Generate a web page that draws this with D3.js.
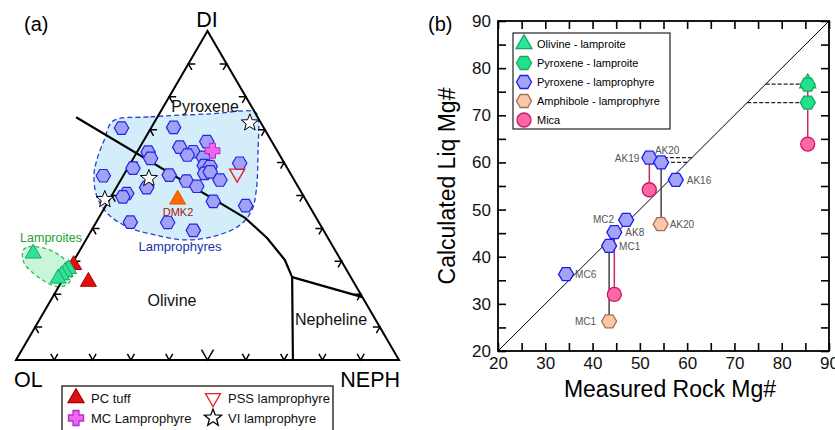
<!DOCTYPE html>
<html>
<head>
<meta charset="utf-8">
<script src="https://cdn.jsdelivr.net/npm/d3@7/dist/d3.min.js"></script>
<style>
body { margin: 0; background: #fff; }
svg text { font-family: "Liberation Sans", Arial, sans-serif; }
</style>
</head>
<body>
<script>

// ---------------- data: panel (a), ternary OL-NEPH-DI ----------------
// each point is [NEPH, DI] in percent, OL is whatever is left
var pyxLamprophyreTern = [
  [-7.7,70.5],[5.8,70.7],[16.6,66.4],[10.4,64.7],[2.9,63.2],[4.5,61.3],[14.6,63.3],
  [13.6,62.3],[18.1,61.6],[28.5,59.8],[1.4,58.3],[19.6,59.1],[21.3,58.8],[20.9,56.7],
  [22.1,57.2],[-5.2,56.0],[11.9,56.2],[25.9,54.7],[17.3,54.4],[7.9,52.4],[20.8,52.8],
  [3.6,50.6],[3.1,49.6],[27.4,48.2],[36.5,46.9],[8.9,41.9],[18.7,41.8],[26.6,39.4]
];
var pcTuffTern = [[0.6,28.9],[7.0,23.8]];
var lamproiteTern = [[-11.7,32.4],[-0.1,27.7],[-0.6,26.8],[-1.0,25.8],[-1.4,24.8]];
var mcLamprophyreTern = [[19.5,63.6]];
var pssLamprophyreTern = [[29.4,56.7]];
var viLamprophyreTern = [[25.0,72.1],[7.1,55.2],[-1.2,48.8]];
var dmk2Tern = [[17.8,48.8]];

var lamprophyreField = [
  [-11.0,72.6],[-1.9,73.9],[13.3,74.8],[24.7,75.4],[26.4,73.6],[31.3,63.8],[36.9,51.7],
  [38.8,45.6],[38.0,41.0],[33.2,37.7],[25.9,36.5],[17.3,38.0],[9.0,40.4],[1.8,44.4],
  [-3.8,49.8],[-7.6,55.9],[-9.3,60.8],[-10.4,66.9]
];
var lamproiteField = [
  [-14.8,33.4],[-14.0,34.4],[-10.0,34.1],[-5.6,32.4],[-2.4,30.4],[1.1,26.8],
  [2.2,23.8],[0.8,22.3],[-2.1,22.8],[-9.3,26.8],[-13.0,29.9]
];
// phase boundaries
var boundaryMain = [[-21.2,73.8],[38.2,43.2],[47.0,37.1],[55.0,30.4],[59.5,25.2],[72.3,0]];
var boundaryNeph = [[59.5,25.2],[80.9,19.1]];
var ternTicks = [10,20,30,40,50,60,70,80,90];

// ---------------- data: panel (b), Mg# ----------------
var olivineLamproite = [{m:85.5, c:76.8}];
var pyroxeneLamproite = [{m:85.5, c:76.5}, {m:85.5, c:72.7}];
var pyroxeneLamprophyre = [
  {name:"AK19", m:52.0, c:61.0},
  {name:"AK20", m:54.5, c:60.0},
  {name:"AK16", m:57.6, c:56.3},
  {name:"MC2",  m:47.1, c:47.8},
  {name:"AK8",  m:44.6, c:45.2},
  {name:"MC1",  m:43.5, c:42.3},
  {name:"MC6",  m:34.4, c:36.3}
];
var amphiboleLamprophyre = [{name:"AK20", m:54.4, c:46.9}, {name:"MC1", m:43.5, c:26.3}];
var mica = [{m:52.0, c:54.2}, {m:44.6, c:32.0}, {m:85.5, c:63.9}];
// tie lines between phases of the same rock [m, c top, c bottom]
var micaTies = [[52.0,61.0,54.2],[44.6,45.2,32.0],[85.5,76.5,63.9]];
var amphTies = [[54.5,60.0,46.9],[43.5,42.3,26.3]];
// horizontal projections to the 1:1 line [c, m]
var equilProj = [[76.6,85.5],[72.7,85.5],[61.0,52.0],[60.0,54.5]];
var axisTicks = [20,25,30,35,40,45,50,55,60,65,70,75,80,85,90];
var axisLabels = [20,30,40,50,60,70,80,90];

// ---------------- symbols ----------------
function hexPath(r) {
  var p = d3.range(6).map(function(i) {
    var a = Math.PI / 3 * i;
    return [r * Math.cos(a), r * Math.sin(a)];
  });
  return "M" + p.join("L") + "Z";
}
function triPath(s, down) {
  var h = s / Math.sqrt(3), k = down ? -1 : 1;
  return "M0," + (-h * k) + "L" + (s/2) + "," + (h/2*k) + "L" + (-s/2) + "," + (h/2*k) + "Z";
}
function starPath(R, r) {
  var p = d3.range(10).map(function(i) {
    var a = -Math.PI / 2 + Math.PI / 5 * i, rr = i % 2 ? r : R;
    return [rr * Math.cos(a), rr * Math.sin(a)];
  });
  return "M" + p.join("L") + "Z";
}
function crossPath(a, t) {
  return "M" + (-t) + "," + (-a) + "H" + t + "V" + (-t) + "H" + a + "V" + t + "H" + t +
    "V" + a + "H" + (-t) + "V" + t + "H" + (-a) + "V" + (-t) + "H" + (-t) + "Z";
}

var svg = d3.select("body").append("svg")
  .attr("width", 835)
  .attr("height", 430);

// ======================= panel (a) =======================
var tx = d3.scaleLinear().domain([0,100]).range([16,399]);
var ty = d3.scaleLinear().domain([0,100]).range([360,31]);
function proj(d) { return [tx(d[0] + d[1] / 2), ty(d[1])]; }

var ga = svg.append("g");

// fields
ga.append("path")
  .attr("d", d3.line().curve(d3.curveCatmullRomClosed.alpha(0.5))(lamprophyreField.map(proj)))
  .attr("fill", "#d4edfb")
  .attr("stroke", "#2b3fc4")
  .attr("stroke-width", 1.3)
  .attr("stroke-dasharray", "5,3");

ga.append("path")
  .attr("d", d3.line().curve(d3.curveCatmullRomClosed.alpha(0.5))(lamproiteField.map(proj)))
  .attr("fill", "#c9f6d9")
  .attr("stroke", "#2cbf4a")
  .attr("stroke-width", 1.3)
  .attr("stroke-dasharray", "4,3");

// triangle frame
var corners = [[0,0],[100,0],[0,100]];
ga.append("path")
  .attr("d", "M" + corners.map(proj).join("L") + "Z")
  .attr("fill", "none")
  .attr("stroke", "#000")
  .attr("stroke-width", 2);

// chevron ticks, vertex on the edge, arms 30 deg either side of inward normal
var edges = [
  {from:[0,0], to:[100,0], n:[0,-1]},
  {from:[0,0], to:[0,100], n:[0.866,0.5]},
  {from:[100,0], to:[0,100], n:[-0.866,0.5]}
];
function rot(v, a) {
  return [v[0]*Math.cos(a) - v[1]*Math.sin(a), v[0]*Math.sin(a) + v[1]*Math.cos(a)];
}
edges.forEach(function(e, ei) {
  ternTicks.forEach(function(t) {
    var f = t / 100;
    var p = proj([e.from[0] + (e.to[0]-e.from[0])*f, e.from[1] + (e.to[1]-e.from[1])*f]);
    var L = (ei == 0 && t == 50) ? 12 : 7;
    var a1 = rot(e.n, Math.PI/6), a2 = rot(e.n, -Math.PI/6);
    ga.append("path")
      .attr("d", "M" + (p[0]+a1[0]*L) + "," + (p[1]+a1[1]*L) + "L" + p[0] + "," + p[1] +
        "L" + (p[0]+a2[0]*L) + "," + (p[1]+a2[1]*L))
      .attr("fill", "none")
      .attr("stroke", "#000")
      .attr("stroke-width", 1.5);
  });
});

// boundaries
[boundaryMain, boundaryNeph].forEach(function(b) {
  ga.append("path")
    .attr("d", d3.line()(b.map(proj)))
    .attr("fill", "none")
    .attr("stroke", "#000")
    .attr("stroke-width", 2.2)
    .attr("stroke-linejoin", "round");
});

// points
function drawTern(data, d, fill, stroke, sw) {
  ga.selectAll(null)
    .data(data)
    .enter().append("path")
    .attr("transform", function(p) { return "translate(" + proj(p) + ")"; })
    .attr("d", d)
    .attr("fill", fill)
    .attr("stroke", stroke)
    .attr("stroke-width", sw || 1.2);
}
drawTern(pyxLamprophyreTern, hexPath(7.2), "#a2a2f4", "#2424e6", 1.2);
drawTern(pcTuffTern, triPath(16), "#dd1111", "#b00000", 1);
drawTern(lamproiteTern, triPath(16), "#33e099", "#16a85e", 1);
drawTern(mcLamprophyreTern, crossPath(7.5, 3), "#ee66ee", "#b52ad0", 1);
drawTern(pssLamprophyreTern, triPath(15, true), "none", "#ee2222", 1.4);
drawTern(viLamprophyreTern, starPath(9, 3.8), "#fff", "#000", 1);
drawTern(dmk2Tern, triPath(16), "#ff6a00", "#e55500", 1);

// labels
function tLabel(txt, x, y, size, color, anchor) {
  ga.append("text")
    .attr("x", x).attr("y", y)
    .attr("font-size", size)
    .attr("fill", color)
    .attr("text-anchor", anchor || "middle")
    .text(txt);
}
tLabel("(a)", 24, 31, 20, "#000", "start");
tLabel("DI", 207, 27, 21.5, "#000");
tLabel("OL", 14, 387, 21.5, "#000", "start");
tLabel("NEPH", 400, 387, 21.5, "#000", "end");
tLabel("Pyroxene", 205, 112, 16, "#111");
tLabel("Olivine", 172, 306, 16, "#111");
tLabel("Nepheline", 331, 325, 16, "#111");
tLabel("Lamprophyres", 180, 251, 13, "#2233aa");
tLabel("Lamproites", 51, 242, 12.5, "#22a033");
tLabel("DMK2", 178, 216, 11, "#a02010");

// legend (a)
var legA = ga.append("g");
legA.append("rect")
  .attr("x", 62).attr("y", 386)
  .attr("width", 271).attr("height", 60)
  .attr("fill", "#fff")
  .attr("stroke", "#333")
  .attr("stroke-width", 1.5);
var legAItems = [
  {label:"PC tuff", x:76, y:398, d:triPath(16), fill:"#dd1111", stroke:"#b00000"},
  {label:"PSS lamprophyre", x:213, y:398, d:triPath(15, true), fill:"none", stroke:"#ee2222"},
  {label:"MC Lamprophyre", x:76, y:418, d:crossPath(7.5, 3), fill:"#ee66ee", stroke:"#b52ad0"},
  {label:"VI lamprophyre", x:213, y:418, d:starPath(9, 3.8), fill:"#fff", stroke:"#000"}
];
legAItems.forEach(function(it) {
  legA.append("path")
    .attr("transform", "translate(" + it.x + "," + it.y + ")")
    .attr("d", it.d)
    .attr("fill", it.fill)
    .attr("stroke", it.stroke)
    .attr("stroke-width", 1.3);
  legA.append("text")
    .attr("x", it.x + 15).attr("y", it.y + 5)
    .attr("font-size", 13)
    .attr("fill", "#111")
    .text(it.label);
});

// ======================= panel (b) =======================
var xScale = d3.scaleLinear().domain([20,90]).range([498,829]);
var yScale = d3.scaleLinear().domain([20,90]).range([351,21]);
var gb = svg.append("g");

function fmt(d) { return axisLabels.indexOf(d) >= 0 ? d : ""; }

var axes = [
  {ax: d3.axisBottom(xScale).tickPadding(6), tr: "translate(0,351)", lab: true},
  {ax: d3.axisLeft(yScale).tickPadding(7), tr: "translate(498,0)", lab: true},
  {ax: d3.axisTop(xScale), tr: "translate(0,21)", lab: false},
  {ax: d3.axisRight(yScale), tr: "translate(829,0)", lab: false}
];
axes.forEach(function(a) {
  var g = gb.append("g")
    .attr("transform", a.tr)
    .call(a.ax.tickValues(axisTicks).tickSizeInner(-8).tickSizeOuter(0)
      .tickFormat(a.lab ? fmt : function() { return ""; }));
  g.attr("font-size", 17).attr("font-family", "'Liberation Sans', Arial, sans-serif");
  g.select(".domain").remove();
  g.selectAll(".tick line").attr("stroke-width", 1.6);
  g.selectAll(".tick text").attr("fill", "#111");
});

// 1:1 line
gb.append("line")
  .attr("x1", xScale(20)).attr("y1", yScale(20))
  .attr("x2", xScale(90)).attr("y2", yScale(90))
  .attr("stroke", "#000")
  .attr("stroke-width", 1);

gb.append("rect")
  .attr("x", 498).attr("y", 21)
  .attr("width", 331).attr("height", 330)
  .attr("fill", "none")
  .attr("stroke", "#000")
  .attr("stroke-width", 1.8);

// dashed projections to the 1:1 line
gb.selectAll(null)
  .data(equilProj)
  .enter().append("line")
  .attr("x1", function(d) { return xScale(d[0]); })
  .attr("x2", function(d) { return xScale(d[1]); })
  .attr("y1", function(d) { return yScale(d[0]); })
  .attr("y2", function(d) { return yScale(d[0]); })
  .attr("stroke", "#222")
  .attr("stroke-width", 1.2)
  .attr("stroke-dasharray", "4,2");

// tie lines
function ties(data, color) {
  gb.selectAll(null)
    .data(data)
    .enter().append("line")
    .attr("x1", function(d) { return xScale(d[0]); })
    .attr("x2", function(d) { return xScale(d[0]); })
    .attr("y1", function(d) { return yScale(d[1]); })
    .attr("y2", function(d) { return yScale(d[2]); })
    .attr("stroke", color)
    .attr("stroke-width", 1.5);
}
ties(amphTies, "#444");
ties(micaTies, "#cc2a60");

function drawB(data, d, fill, stroke) {
  gb.selectAll(null)
    .data(data)
    .enter().append("path")
    .attr("transform", function(p) { return "translate(" + xScale(p.m) + "," + yScale(p.c) + ")"; })
    .attr("d", d)
    .attr("fill", fill)
    .attr("stroke", stroke)
    .attr("stroke-width", 1.3);
}
var circ = "M7,0A7,7 0 1,1 -7,0A7,7 0 1,1 7,0Z";
drawB(mica, circ, "#ff66a8", "#c8175e");
drawB(amphiboleLamprophyre, hexPath(7.5), "#f8c8a8", "#a66e4c");
drawB(olivineLamproite, triPath(16), "#2fe39a", "#16a85e");
drawB(pyroxeneLamproite, hexPath(7.5), "#25e08f", "#16a85e");
drawB(pyroxeneLamprophyre, hexPath(7.5), "#a4a4f6", "#1c1cf0");

// sample names
var nameSpots = [
  {name:"AK19", m:52.0, c:61.0, dx:-10, dy:4, a:"end"},
  {name:"AK20", m:54.5, c:60.0, dx:6, dy:-8, a:"middle"},
  {name:"AK16", m:57.6, c:56.3, dx:11, dy:4, a:"start"},
  {name:"MC2", m:47.1, c:47.8, dx:-12, dy:3, a:"end"},
  {name:"AK8", m:44.6, c:45.2, dx:11, dy:4, a:"start"},
  {name:"MC1", m:43.5, c:42.3, dx:10, dy:4, a:"start"},
  {name:"MC6", m:34.4, c:36.3, dx:9, dy:4, a:"start"},
  {name:"MC1", m:43.5, c:26.3, dx:-13, dy:4, a:"end"},
  {name:"AK20", m:54.4, c:46.9, dx:9, dy:4, a:"start"}
];
gb.selectAll(null)
  .data(nameSpots)
  .enter().append("text")
  .attr("x", function(d) { return xScale(d.m) + d.dx; })
  .attr("y", function(d) { return yScale(d.c) + d.dy; })
  .attr("text-anchor", function(d) { return d.a; })
  .attr("font-size", 10)
  .attr("fill", "#555")
  .text(function(d) { return d.name; });

// legend (b)
var legB = gb.append("g");
legB.append("rect")
  .attr("x", 513).attr("y", 33)
  .attr("width", 157).attr("height", 96)
  .attr("fill", "#fff")
  .attr("stroke", "#222")
  .attr("stroke-width", 1.2);
var legBItems = [
  {label:"Olivine - lamproite", d:triPath(16), fill:"#2fe39a", stroke:"#16a85e"},
  {label:"Pyroxene - lamproite", d:hexPath(7.5), fill:"#25e08f", stroke:"#16a85e"},
  {label:"Pyroxene - lamprophyre", d:hexPath(7.5), fill:"#a4a4f6", stroke:"#1c1cf0"},
  {label:"Amphibole - lamprophyre", d:hexPath(7.5), fill:"#f8c8a8", stroke:"#a66e4c"},
  {label:"Mica", d:circ, fill:"#ff66a8", stroke:"#c8175e"}
];
legBItems.forEach(function(it, i) {
  var y = 44 + i * 19;
  legB.append("path")
    .attr("transform", "translate(524," + y + ")")
    .attr("d", it.d)
    .attr("fill", it.fill)
    .attr("stroke", it.stroke)
    .attr("stroke-width", 1.3);
  legB.append("text")
    .attr("x", 537).attr("y", y + 4)
    .attr("font-size", 11)
    .attr("fill", "#000")
    .text(it.label);
});

// titles
gb.append("text")
  .attr("x", 428).attr("y", 31)
  .attr("font-size", 20)
  .text("(b)");
gb.append("text")
  .attr("x", 670).attr("y", 397)
  .attr("text-anchor", "middle")
  .attr("font-size", 23)
  .text("Measured Rock Mg#");
gb.append("text")
  .attr("transform", "translate(455,186) rotate(-90)")
  .attr("text-anchor", "middle")
  .attr("font-size", 23)
  .text("Calculated Liq Mg#");

</script>
</body>
</html>
